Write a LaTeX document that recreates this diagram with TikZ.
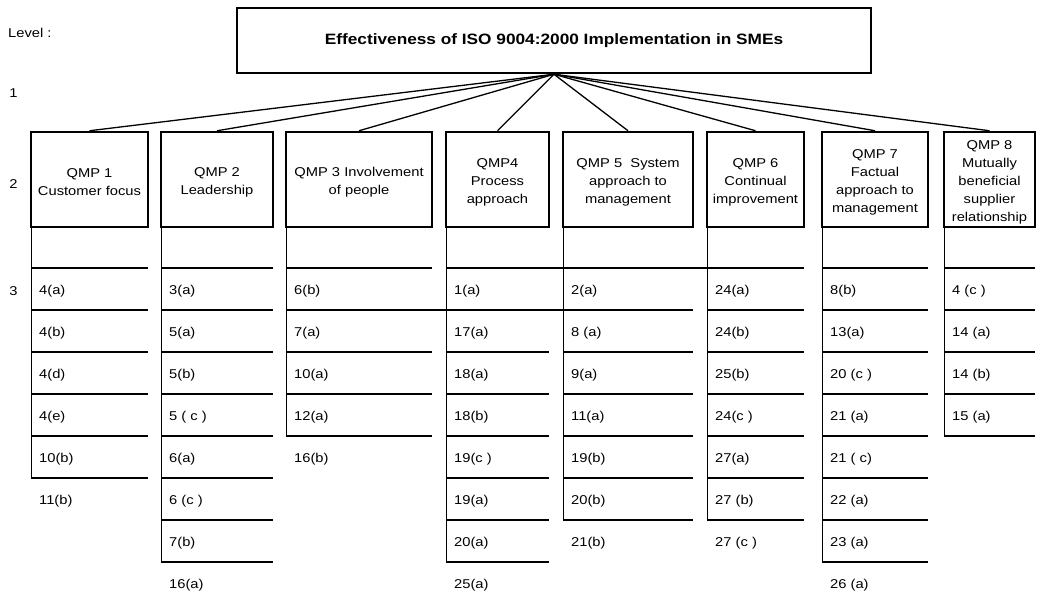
\documentclass[tikz,border=0pt]{standalone}
\usepackage{fontspec}
\setmainfont{Liberation Sans}[FakeStretch=1.15]
\usepackage{tikz}
\newcommand{\qmphead}{\rule{0pt}{15pt}}

\begin{document}
\begin{tikzpicture}[x=1pt, y=-1pt, font=\fontsize{12.8}{18}\selectfont,
  qmpbox/.style={draw, line width=2.5pt, minimum height=95pt, inner sep=1pt, align=center},
  rowline/.style={line width=1.2pt},
  colline/.style={line width=0.9pt},
  entry/.style={anchor=west, inner sep=2pt}]
\useasboundingbox (0,0) rectangle (1037,595);

\node[draw, line width=2.5pt, minimum width=634pt, minimum height=65pt,
  font=\bfseries\fontsize{15}{18}\selectfont] (title) at (554,40.5)
  {Effectiveness of ISO 9004:2000 Implementation in SMEs};

\node[anchor=west, inner sep=2pt] (level) at (6,33) {Level :};
\node (lv1) at (13.5,93) {1};
\node (lv2) at (13.5,184) {2};
\node (lv3) at (13.5,291) {3};

\node[qmpbox, minimum width=117pt] (q1) at (89.5,179.5) {\qmphead QMP 1\\Customer focus};
\node[qmpbox, minimum width=112pt] (q2) at (217,179.5) {\qmphead QMP 2\\Leadership};
\node[qmpbox, minimum width=146pt] (q3) at (359,179.5) {\qmphead QMP 3 Involvement\\of people};
\node[qmpbox, minimum width=103pt] (q4) at (497.5,179.5) {\qmphead QMP4\\Process\\approach};
\node[qmpbox, minimum width=130pt] (q5) at (628,179.5) {\qmphead QMP 5~ System\\approach to\\management};
\node[qmpbox, minimum width=97pt] (q6) at (755.5,179.5) {\qmphead QMP 6\\Continual\\improvement};
\node[qmpbox, minimum width=106pt] (q7) at (875,179.5) {\qmphead QMP 7\\Factual\\approach to\\management};
\node[qmpbox, minimum width=91pt] (q8) at (989.5,179.5) {\qmphead QMP 8\\Mutually\\beneficial\\supplier\\relationship};

\foreach \k in {1,...,8}
  \draw[line width=1.3pt] (title.south) -- (q\k.north);

% level 3 columns: left/right/ruled rows/items
\foreach \l/\r/\m/\cells [count=\k] in {
  31/148/5/{4(a),4(b),4(d),4(e),10(b),11(b)},
  161/273/7/{3(a),5(a),5(b),5 ( c ),6(a),6 (c ),7(b),16(a)},
  286/432/4/{6(b),7(a),10(a),12(a),16(b)},
  446/549/7/{1(a),17(a),18(a),18(b),19(c ),19(a),20(a),25(a)},
  563/693/6/{2(a),8 (a),9(a),11(a),19(b),20(b),21(b)},
  707/804/6/{24(a),24(b),25(b),24(c ),27(a),27 (b),27 (c )},
  822/928/7/{8(b),13(a),20 (c ),21 (a),21 ( c),22 (a),23 (a),26 (a)},
  944/1035/4/{4 (c ),14 (a),14 (b),15 (a)}}
{
  \draw[colline] (\l,227) -- (\l,{268+42*\m});
  \foreach \i in {0,...,\m}
    \draw[rowline] (\l,{268+42*\i}) -- (\r,{268+42*\i});
  \foreach \e [count=\i] in \cells
    \node[entry] (e\k-\i) at ({\l+6},{249+42*\i}) {\e};
}
% rules running on across the gaps
\draw[rowline] (549,268) -- (563,268);
\draw[rowline] (693,268) -- (707,268);
\draw[rowline] (432,310) -- (446,310);
\draw[rowline] (549,310) -- (563,310);
\end{tikzpicture}
\end{document}
